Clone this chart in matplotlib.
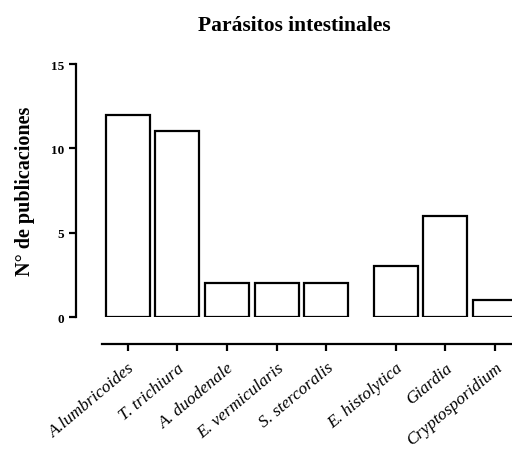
import matplotlib.pyplot as plt
import numpy as np

parasitos = ["A.lumbricoides", "T. trichiura", "A. duodenale", "E. vermicularis",
             "S. stercoralis", "E. histolytica", "Giardia", "Cryptosporidium"]
publicaciones = [12, 11, 2, 2, 2, 3, 6, 1]
# helmintos primero, luego protozoos (con hueco entre grupos)
posiciones = [0, 1, 2, 3, 4, 5.4, 6.4, 7.4]

plt.rcParams['font.family'] = ['Liberation Serif', 'DejaVu Serif']

fig = plt.figure(figsize=(5.12, 4.77), dpi=100)
ax = fig.add_axes([0.1992, 0.3333, 0.818, 0.5304])

# spines first: set_position resets the ticks
for s in ["top", "right"]:
    ax.spines[s].set_visible(False)
ax.spines["left"].set_position(("outward", 19))
ax.spines["bottom"].set_position(("outward", 19.5))
ax.spines["left"].set_linewidth(1.6)
ax.spines["bottom"].set_linewidth(1.6)

ax.bar(posiciones, publicaciones, width=0.89, color="white",
       edgecolor="black", linewidth=1.6)

ax.set_xlim(-0.52, 7.92)
ax.set_ylim(0, 15)
ax.tick_params(axis="both", width=1.6, length=5, direction="out")
ax.tick_params(axis="x", pad=6)
ax.set_yticks([0, 5, 10, 15])
ax.set_yticklabels(["0", "5", "10", "15"], fontweight="bold", fontsize=9.5)
ax.set_xticks(posiciones)
ax.set_xticklabels(parasitos, fontstyle="italic", fontsize=12.5,
                   rotation=40, ha="right", rotation_mode="anchor")

ax.set_ylabel("N° de publicaciones", fontweight="bold", fontsize=14.5, labelpad=11)
fig.text(0.575, 0.945, "Parásitos intestinales", ha="center", va="center",
         fontweight="bold", fontsize=15.5)

fig.savefig("out.png", dpi=100)
